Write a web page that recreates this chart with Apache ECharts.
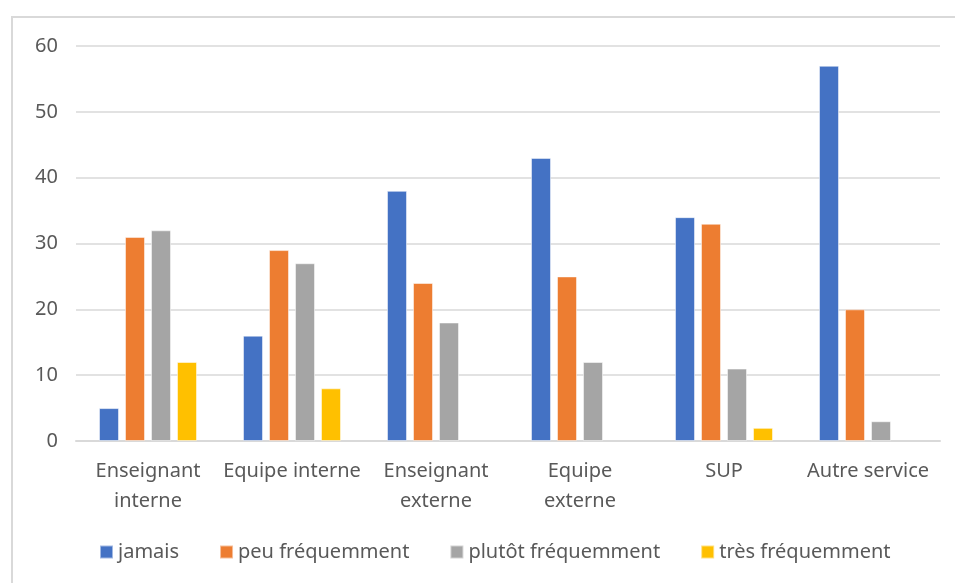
<!DOCTYPE html>
<html>
<head>
<meta charset="utf-8">
<script src="https://cdn.jsdelivr.net/npm/echarts@6/dist/echarts.min.js"></script>
<style>html,body{margin:0;padding:0;background:#fff}#c{width:955px;height:583px}</style>
</head>
<body>
<div id="c"></div>
<script>
const categories = ["Enseignant\ninterne", "Equipe interne", "Enseignant\nexterne", "Equipe\nexterne", "SUP", "Autre service"];
const seriesNames = ["jamais", "peu fréquemment", "plutôt fréquemment", "très fréquemment"];
const jamais = [5, 16, 38, 43, 34, 57];
const peuFrequemment = [31, 29, 24, 25, 33, 20];
const plutotFrequemment = [32, 27, 18, 12, 11, 3];
const tresFrequemment = [12, 8, null, null, 2, null];
const yTicks = { min: 0, max: 60, interval: 10 };

const colors = ["#4472C4", "#ED7D31", "#A5A5A5", "#FFC000"];
const values = [jamais, peuFrequemment, plutotFrequemment, tresFrequemment];
const font = "Noto Sans";
const chart = echarts.init(document.getElementById('c'), null, { renderer: 'canvas' });
chart.setOption({
  animation: false,
  color: colors,
  textStyle: { fontFamily: font },
  graphic: [{
    type: 'rect', shape: { x: 12, y: 17, width: 1000, height: 700 },
    style: { fill: 'none', stroke: '#D9D9D9', lineWidth: 2 }, silent: true
  }],
  grid: { left: 76, right: 15, top: 46, bottom: 142 },
  legend: {
    bottom: 16, left: 94,
    itemWidth: 13, itemHeight: 13, itemGap: 40,
    icon: 'rect',
    textStyle: { fontSize: 20, color: '#595959', fontFamily: font },
    data: seriesNames
  },
  xAxis: {
    type: 'category', data: categories,
    axisLine: { lineStyle: { color: '#D9D9D9', width: 2 } },
    axisTick: { show: false },
    axisLabel: { fontSize: 20, color: '#595959', fontFamily: font, margin: 15, lineHeight: 30, interval: 0 }
  },
  yAxis: {
    type: 'value', min: yTicks.min, max: yTicks.max, interval: yTicks.interval,
    axisLine: { show: false }, axisTick: { show: false },
    splitLine: { lineStyle: { color: '#D9D9D9', width: 1.5 } },
    axisLabel: { fontSize: 20, color: '#595959', fontFamily: font, margin: 18 }
  },
  series: seriesNames.map((n, i) => ({
    name: n, type: 'bar', data: values[i], barWidth: 20, barGap: '30%',
    itemStyle: { borderColor: 'rgba(255,255,255,0.5)', borderWidth: 1 }
  }))
});
</script>
</body>
</html>
